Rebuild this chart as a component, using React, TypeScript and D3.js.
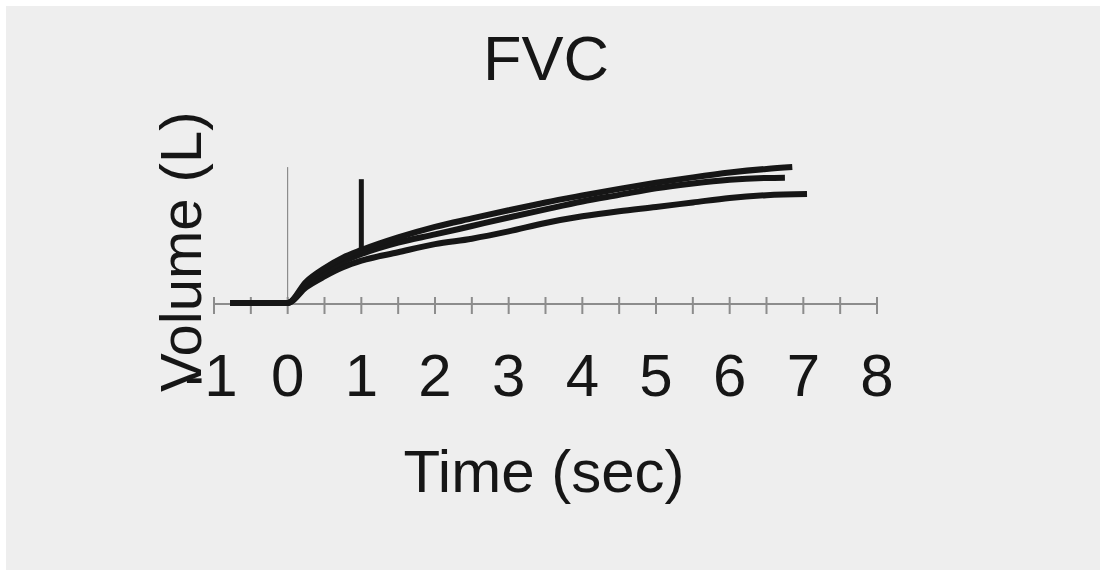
import React, { useEffect, useRef } from "react";
import * as d3 from "d3";

const timesTop = [-0.78, 0, 0.25, 0.5, 0.75, 1, 1.5, 2, 2.5, 3, 3.5, 4, 4.5, 5, 5.5, 6, 6.5, 6.85];
const volTop = [0, 0, 0.7, 1.15, 1.5, 1.75, 2.17, 2.52, 2.8, 3.07, 3.33, 3.56, 3.78, 3.98, 4.16, 4.32, 4.44, 4.5];

const timesMid = [-0.78, 0, 0.25, 0.5, 0.75, 1, 1.5, 2, 2.5, 3, 3.5, 4, 4.5, 5, 5.5, 6, 6.5, 6.75];
const volMid = [0, 0, 0.62, 1.02, 1.36, 1.62, 2.0, 2.27, 2.55, 2.83, 3.1, 3.36, 3.58, 3.8, 3.96, 4.08, 4.14, 4.15];

const timesLow = [-0.78, 0, 0.25, 0.5, 0.75, 1, 1.5, 2, 2.5, 3, 3.5, 4, 4.5, 5, 5.5, 6, 6.5, 7.05];
const volLow = [0, 0, 0.52, 0.88, 1.18, 1.4, 1.68, 1.95, 2.13, 2.37, 2.65, 2.87, 3.04, 3.18, 3.33, 3.48, 3.57, 3.61];

const tickLabels = [-1, 0, 1, 2, 3, 4, 5, 6, 7, 8];
const minorTicks = d3.range(-1, 8.01, 0.5);

// 1-second marker
const markerTime = 1;
const markerFrom = 1.75;
const markerTo = 4.1;

const W = 1100;
const H = 570;
const FONT = "'Liberation Sans', Arial, Helvetica, sans-serif";
const INK = "#161616";

export default function App() {
  const ref = useRef<SVGSVGElement | null>(null);

  useEffect(() => {
    const svg = d3.select(ref.current);
    svg.selectAll("*").remove();

    const x = d3.scaleLinear().domain([-1, 8]).range([214, 877]);
    const y = d3.scaleLinear().domain([0, 5]).range([303, 152]);

    // paper
    svg.append("rect").attr("width", W).attr("height", H).attr("fill", "#ffffff");
    svg.append("rect").attr("x", 6).attr("y", 6).attr("width", W).attr("height", H).attr("fill", "#eeeeee");

    // title
    svg.append("text")
      .attr("x", 546).attr("y", 80)
      .attr("text-anchor", "middle")
      .style("font-family", FONT).style("font-size", "63px")
      .attr("fill", INK)
      .text("FVC");

    // y axis: thin line at t = 0
    svg.append("line")
      .attr("x1", x(0)).attr("x2", x(0))
      .attr("y1", y(0)).attr("y2", y(4.5))
      .attr("stroke", "#7a7a7a").attr("stroke-width", 1);

    // x axis line + half second ticks
    svg.append("line")
      .attr("x1", x(-1)).attr("x2", x(8))
      .attr("y1", y(0) + 1).attr("y2", y(0) + 1)
      .attr("stroke", "#8c8c8c").attr("stroke-width", 2);

    svg.selectAll("line.tick")
      .data(minorTicks)
      .enter()
      .append("line")
      .attr("class", "tick")
      .attr("x1", (d) => x(d)).attr("x2", (d) => x(d))
      .attr("y1", y(0) - 6).attr("y2", y(0) + 11)
      .attr("stroke", "#8c8c8c").attr("stroke-width", 2);

    svg.selectAll("text.tl")
      .data(tickLabels)
      .enter()
      .append("text")
      .attr("class", "tl")
      .attr("x", (d) => x(d) - (d < 0 ? 3 : 0))
      .attr("y", 396)
      .attr("text-anchor", "middle")
      .style("font-family", FONT).style("font-size", "60px")
      .attr("fill", INK)
      .text((d) => String(d));

    // axis titles
    svg.append("text")
      .attr("x", 544).attr("y", 492)
      .attr("text-anchor", "middle")
      .style("font-family", FONT).style("font-size", "60px")
      .attr("fill", INK)
      .text("Time (sec)");

    svg.append("text")
      .attr("transform", "translate(201,392) rotate(-90)")
      .attr("text-anchor", "start")
      .style("font-family", FONT).style("font-size", "58px")
      .attr("fill", INK)
      .text("Volume (L)");

    // curves
    const line = d3.line<[number, number]>()
      .x((d) => x(d[0]))
      .y((d) => y(d[1]))
      .curve(d3.curveMonotoneX);

    const series: [number, number][][] = [
      timesLow.map((t, i) => [t, volLow[i]]),
      timesMid.map((t, i) => [t, volMid[i]]),
      timesTop.map((t, i) => [t, volTop[i]]),
    ];

    svg.selectAll("path.trial")
      .data(series)
      .enter()
      .append("path")
      .attr("class", "trial")
      .attr("d", (d) => line(d))
      .attr("fill", "none")
      .attr("stroke", INK)
      .attr("stroke-width", 6)
      .attr("stroke-linejoin", "round");

    // 1 s marker
    svg.append("line")
      .attr("x1", x(markerTime)).attr("x2", x(markerTime))
      .attr("y1", y(markerFrom)).attr("y2", y(markerTo))
      .attr("stroke", INK).attr("stroke-width", 5);
  }, []);

  return (
    <svg
      ref={ref}
      width={W}
      height={H}
      style={{ position: "fixed", left: 0, top: 0, display: "block" }}
    />
  );
}
